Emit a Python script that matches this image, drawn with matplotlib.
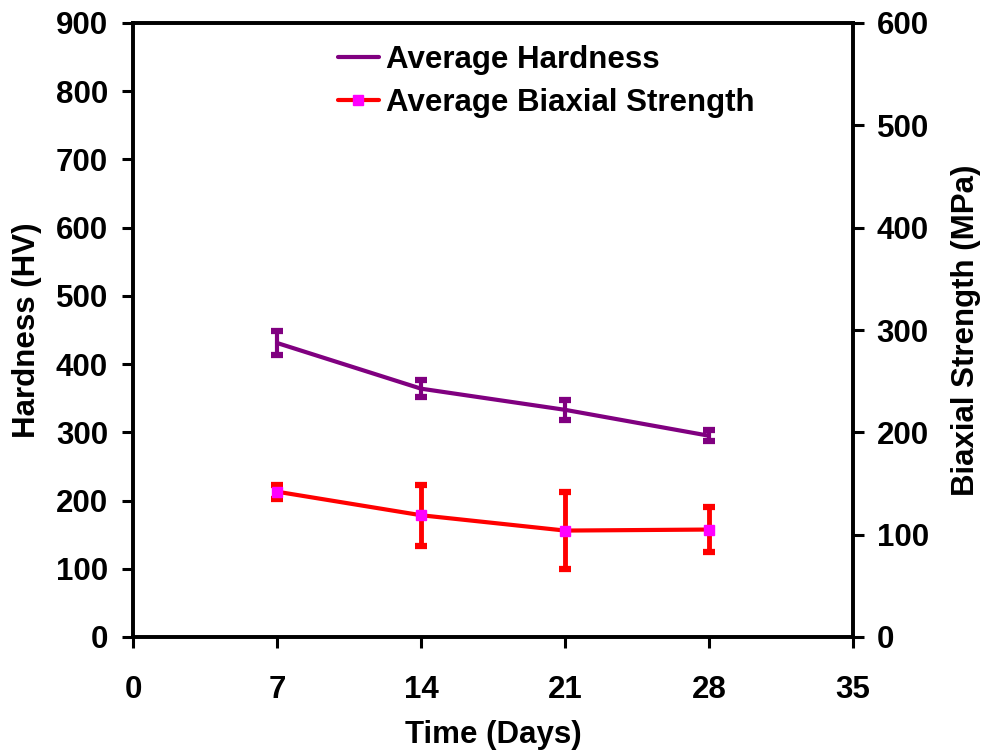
import matplotlib
matplotlib.use("Agg")
import matplotlib.pyplot as plt
from matplotlib.lines import Line2D

# values
days = [7, 14, 21, 28]
hardness = [431, 364, 333, 295]
hardness_err = [17, 12, 15, 8]
strength = [142, 119, 104, 105]
strength_err = [7, 30, 38, 22]

plt.rcParams["font.family"] = ["Liberation Sans", "DejaVu Sans"]
plt.rcParams["font.weight"] = "bold"
plt.rcParams["font.size"] = 22.5
plt.rcParams["lines.solid_capstyle"] = "round"

fig = plt.figure(figsize=(9.81, 7.54), dpi=100)
ax = fig.add_axes([133 / 981, 1 - 637 / 754, 720 / 981, 614 / 754])
ax2 = ax.twinx()

eb1 = ax.errorbar(days, hardness, yerr=hardness_err, color="#800080", lw=3,
                  elinewidth=3, capsize=4.5, capthick=4.5, zorder=3)
eb2 = ax2.errorbar(days, strength, yerr=strength_err, color="#FF0000", lw=3,
                   elinewidth=3.5, capsize=4.5, capthick=4.5, marker="s", ms=7,
                   mfc="#FF00FF", mec="#FF00FF", zorder=3)
for eb in (eb1, eb2):
    for cap in eb[1]:
        cap.set_solid_capstyle("round")

ax.set_xlim(0, 35)
ax.set_xticks(range(0, 36, 7))
ax.set_ylim(0, 900)
ax.set_yticks(range(0, 901, 100))
ax2.set_ylim(0, 600)
ax2.set_yticks(range(0, 601, 100))

for a in (ax, ax2):
    for s in a.spines.values():
        s.set_linewidth(2.6)
    a.tick_params(direction="out", length=8, width=2.2)
ax.tick_params(axis="x", pad=19)
ax.tick_params(axis="y", pad=10)
ax2.tick_params(axis="y", pad=9)

ax.set_xlabel("Time (Days)", fontweight="bold", labelpad=11)
ax.set_ylabel("Hardness (HV)", fontweight="bold", labelpad=10)
ax2.set_ylabel("Biaxial Strength (MPa)", fontweight="bold", labelpad=16)

handles = [
    Line2D([], [], color="#800080", lw=3),
    Line2D([], [], color="#FF0000", lw=3, marker="s", ms=7,
           mfc="#FF00FF", mec="#FF00FF"),
]
fig.legend(handles, ["Average Hardness", "Average Biaxial Strength"],
           loc="upper left", bbox_to_anchor=(338 / 981, 1 - 45 / 754),
           frameon=False, handlelength=1.3, handletextpad=0.25,
           labelspacing=0.4, borderaxespad=0, borderpad=0)

fig.savefig("out.png", dpi=100)
